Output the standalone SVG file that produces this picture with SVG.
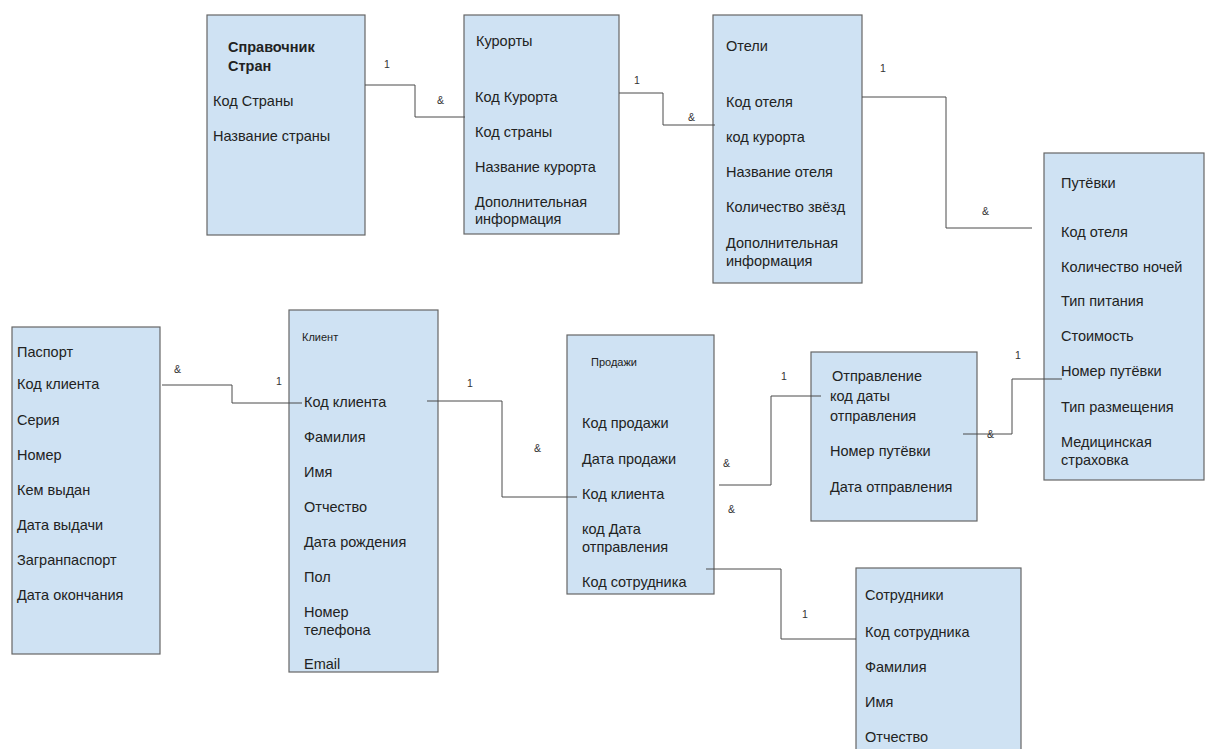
<svg xmlns="http://www.w3.org/2000/svg" width="1205" height="749" viewBox="0 0 1205 749">
<style>
.box{fill:#cfe2f3;stroke:#666;stroke-width:1.2}
text{font-family:"Liberation Sans",Arial,sans-serif;font-size:14.5px;fill:#222}
.b{font-weight:bold}
.s{font-size:11px}
.lbl{font-size:10.5px;fill:#333}
.c{fill:none;stroke:#4a4a4a;stroke-width:1}
</style>
<rect width="1205" height="749" fill="#fff"/>
<g id="countries">
<rect class="box" x="207" y="15" width="158" height="220"/>
<text class="b" x="228" y="52">Справочник</text>
<text class="b" x="228" y="71">Стран</text>
<text x="213" y="106">Код Страны</text>
<text x="213" y="141">Название страны</text>
</g>
<g id="resorts">
<rect class="box" x="464" y="15" width="155" height="219"/>
<text x="476" y="46">Курорты</text>
<text x="475" y="102">Код Курорта</text>
<text x="475" y="137">Код страны</text>
<text x="475" y="172">Название курорта</text>
<text x="475" y="207">Дополнительная</text>
<text x="475" y="224">информация</text>
</g>
<g id="hotels">
<rect class="box" x="713" y="15" width="149" height="268"/>
<text x="726" y="51">Отели</text>
<text x="726" y="107">Код отеля</text>
<text x="726" y="142">код курорта</text>
<text x="726" y="177">Название отеля</text>
<text x="726" y="212">Количество звёзд</text>
<text x="726" y="248">Дополнительная</text>
<text x="726" y="266">информация</text>
</g>
<g id="vouchers">
<rect class="box" x="1044" y="153" width="160" height="327"/>
<text x="1061" y="188">Путёвки</text>
<text x="1061" y="237">Код отеля</text>
<text x="1061" y="272">Количество ночей</text>
<text x="1061" y="306">Тип питания</text>
<text x="1061" y="341">Стоимость</text>
<text x="1061" y="376">Номер путёвки</text>
<text x="1061" y="412">Тип размещения</text>
<text x="1061" y="447">Медицинская</text>
<text x="1061" y="465">страховка</text>
</g>
<g id="departure">
<rect class="box" x="811" y="352" width="166" height="169"/>
<text x="832" y="381">Отправление</text>
<text x="830" y="401">код даты</text>
<text x="830" y="421">отправления</text>
<text x="830" y="456">Номер путёвки</text>
<text x="830" y="492">Дата отправления</text>
</g>
<g id="sales">
<rect class="box" x="567" y="335" width="147" height="259"/>
<text class="s" x="591" y="366">Продажи</text>
<text x="582" y="428">Код продажи</text>
<text x="582" y="464">Дата продажи</text>
<text x="582" y="499">Код клиента</text>
<text x="582" y="534">код Дата</text>
<text x="582" y="552">отправления</text>
<text x="582" y="587">Код сотрудника</text>
</g>
<g id="client">
<rect class="box" x="289" y="310" width="149" height="362"/>
<text class="s" x="302" y="341">Клиент</text>
<text x="304" y="407">Код клиента</text>
<text x="304" y="442">Фамилия</text>
<text x="304" y="477">Имя</text>
<text x="304" y="512">Отчество</text>
<text x="304" y="547">Дата рождения</text>
<text x="304" y="582">Пол</text>
<text x="304" y="617">Номер</text>
<text x="304" y="635">телефона</text>
<text x="304" y="669">Email</text>
</g>
<g id="passport">
<rect class="box" x="12" y="327" width="148" height="327"/>
<text x="17" y="357">Паспорт</text>
<text x="17" y="389">Код клиента</text>
<text x="17" y="425">Серия</text>
<text x="17" y="460">Номер</text>
<text x="17" y="495">Кем выдан</text>
<text x="17" y="530">Дата выдачи</text>
<text x="17" y="565">Загранпаспорт</text>
<text x="17" y="600">Дата окончания</text>
</g>
<g id="employees">
<rect class="box" x="856" y="568" width="165" height="190"/>
<text x="865" y="600">Сотрудники</text>
<text x="865" y="637">Код сотрудника</text>
<text x="865" y="672">Фамилия</text>
<text x="865" y="707">Имя</text>
<text x="865" y="742">Отчество</text>
</g>
<g id="connectors">
<polyline class="c" points="365,85 415,85 415,117 465,117"/>
<polyline class="c" points="619,93 663,93 663,125 715,125"/>
<polyline class="c" points="862,97 946,97 946,228 1032,228"/>
<polyline class="c" points="1062,379 1012,379 1012,434 963,434"/>
<polyline class="c" points="719,485 771,485 771,396 821,396"/>
<polyline class="c" points="162,385 232,385 232,403 302,403"/>
<polyline class="c" points="427,401 502,401 502,497 577,497"/>
<polyline class="c" points="706,569 781,569 781,639 856,639"/>
<text class="lbl" x="384" y="68">1</text>
<text class="lbl" x="437" y="104">&amp;</text>
<text class="lbl" x="634" y="84">1</text>
<text class="lbl" x="688" y="121">&amp;</text>
<text class="lbl" x="880" y="72">1</text>
<text class="lbl" x="982" y="215">&amp;</text>
<text class="lbl" x="1015" y="359">1</text>
<text class="lbl" x="987" y="438">&amp;</text>
<text class="lbl" x="781" y="380">1</text>
<text class="lbl" x="723" y="467">&amp;</text>
<text class="lbl" x="728" y="513">&amp;</text>
<text class="lbl" x="174" y="373">&amp;</text>
<text class="lbl" x="276" y="385">1</text>
<text class="lbl" x="467" y="387">1</text>
<text class="lbl" x="534" y="452">&amp;</text>
<text class="lbl" x="802" y="618">1</text>
</g>
</svg>
